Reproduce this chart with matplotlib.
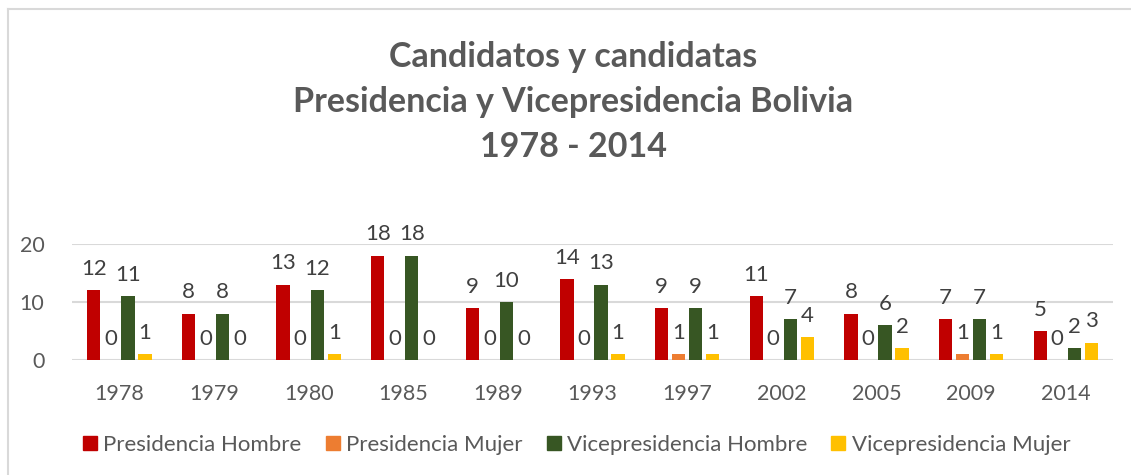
import numpy as np
import matplotlib.pyplot as plt
from matplotlib.lines import Line2D

years = ["1978", "1979", "1980", "1985", "1989", "1993", "1997", "2002", "2005", "2009", "2014"]
pres_hombre = [12, 8, 13, 18, 9, 14, 9, 11, 8, 7, 5]
pres_mujer = [0, 0, 0, 0, 0, 0, 1, 0, 0, 1, 0]
vice_hombre = [11, 8, 12, 18, 10, 13, 9, 7, 6, 7, 2]
vice_mujer = [1, 0, 1, 0, 0, 1, 1, 4, 2, 1, 3]

series = [
    ("Presidencia Hombre", pres_hombre, "#C00000"),
    ("Presidencia Mujer", pres_mujer, "#ED7D31"),
    ("Vicepresidencia Hombre", vice_hombre, "#375623"),
    ("Vicepresidencia Mujer", vice_mujer, "#FFC000"),
]

plt.rcParams["font.family"] = ["Lato", "DejaVu Sans"]

fig = plt.figure(figsize=(11.31, 4.75), dpi=100)
ax = fig.add_axes([0.0637, 0.2421, 0.9204, 0.2442])

x = np.arange(len(years))
pitch = 0.18
width = 0.14
for i, (name, vals, color) in enumerate(series):
    bars = ax.bar(x + (i - 1.5) * pitch, vals, width, color=color, label=name, zorder=3)
    ax.bar_label(bars, padding=8, fontsize=16, color="#404040", clip_on=False)

ax.set_xlim(-0.5, len(years) - 0.5)
ax.set_ylim(0, 20)
ax.set_yticks([0, 10, 20])
ax.set_xticks(x, years)
ax.tick_params(axis="both", length=0, labelsize=15.5, labelcolor="#595959")
ax.tick_params(axis="y", pad=20)
ax.tick_params(axis="x", pad=17)
ax.grid(axis="y", color="#D9D9D9", linewidth=1.5, zorder=0)
for s in ax.spines.values():
    s.set_visible(False)

title = ["Candidatos y candidatas", "Presidencia y Vicepresidencia Bolivia", "1978 - 2014"]
for k, line in enumerate(title):
    fig.text(0.507, 0.880 - k * 0.0945, line, ha="center", va="center",
             fontsize=24.5, fontweight="bold", color="#595959")

handles = [Line2D([], [], marker="s", linestyle="none", markersize=9.5, color=c)
           for _, _, c in series]
fig.legend(handles, [n for n, _, _ in series], loc="center", bbox_to_anchor=(0.51, 0.063),
           ncol=4, frameon=False, fontsize=16, labelcolor="#595959",
           handlelength=0.6, handletextpad=0.3, columnspacing=1.1)

# chart border (left and top only visible)
fig.add_artist(Line2D([0.007, 0.007], [0.0, 0.981], color="#D9D9D9", linewidth=1.5))
fig.add_artist(Line2D([0.007, 1.0], [0.981, 0.981], color="#D9D9D9", linewidth=1.5))

fig.savefig("out.png", dpi=100)
